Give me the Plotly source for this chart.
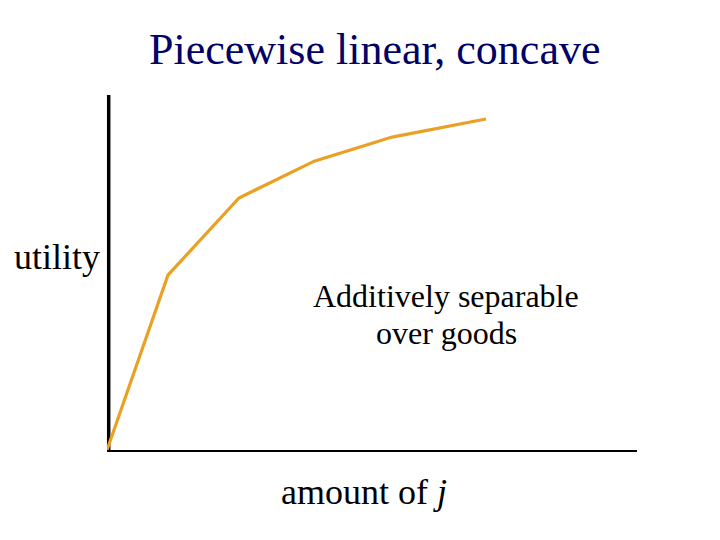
import plotly.graph_objects as go

# Data
amount = [0, 11.5, 24.9, 39.1, 53.8, 71.5]
utility = [0, 49.4, 71.2, 81.6, 88.4, 93.5]

title_text = "Piecewise linear, concave"
y_label = "utility"
x_label = "amount of <i>j</i>"
note_lines = ["Additively separable", "over goods"]

L, R, T, B = 107, 83, 96, 90
W, H = 720, 540
pw, ph = W - L - R, H - T - B

def px(x):
    return (x - L) / pw

def py(y):
    return (H - B - y) / ph

fig = go.Figure()
fig.add_trace(go.Scatter(x=amount, y=utility, mode="lines",
                         line=dict(color="#E9A023", width=3.2),
                         hoverinfo="skip", showlegend=False, cliponaxis=False))

font = "Liberation Serif, Times New Roman, serif"

def ann(text, x, y, size, color="black"):
    return dict(text=text, x=px(x), y=py(y), xref="paper", yref="paper",
                xanchor="center", yanchor="middle", showarrow=False,
                font=dict(family=font, size=size, color=color))

fig.update_layout(
    width=W, height=H,
    margin=dict(l=L, r=R, t=T, b=B),
    plot_bgcolor="white", paper_bgcolor="white",
    showlegend=False,
    xaxis=dict(range=[0, 100], showgrid=False, zeroline=False, showticklabels=False,
               ticks="", showline=True, linecolor="black", linewidth=1.5, fixedrange=True),
    yaxis=dict(range=[0, 100], showgrid=False, zeroline=False, showticklabels=False,
               ticks="", showline=False, fixedrange=True),
    shapes=[dict(type="line", xref="paper", yref="paper",
                 x0=px(108.7), x1=px(108.7), y0=0, y1=1.003,
                 line=dict(color="black", width=3.5), layer="below")],
    annotations=[
        ann(title_text, 374, 50, 44, "#000066"),
        ann(y_label, 57, 257, 36),
        ann(note_lines[0], 446, 296, 32),
        ann(note_lines[1], 446, 333, 32),
        ann(x_label, 364, 492, 36),
    ],
)

fig.write_html("out.html", config={"displayModeBar": False})
